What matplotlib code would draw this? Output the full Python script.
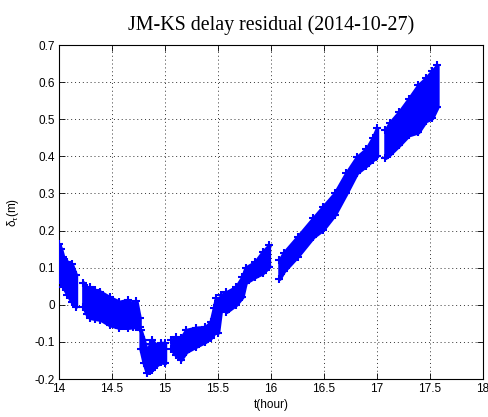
import matplotlib
matplotlib.use("Agg")
import matplotlib.pyplot as plt

# Envelope of the scattered residuals (t in hours, values in m)
seg1_t     = [14.00, 14.02, 14.04, 14.08, 14.12, 14.16]
seg1_low   = [0.067, 0.058, 0.048, 0.027, 0.008, -0.005]
seg1_high  = [0.163, 0.150, 0.128, 0.115, 0.110, 0.080]

seg2_t     = [14.23, 14.26, 14.29, 14.34, 14.39, 14.48, 14.57, 14.65, 14.70, 14.73, 14.76]
seg2_low   = [-0.005, -0.025, -0.035, -0.038, -0.040, -0.055, -0.062, -0.062, -0.060, -0.060, -0.060]
seg2_high  = [0.060, 0.045, 0.048, 0.040, 0.035, 0.020, 0.008, 0.013, 0.000, 0.010, -0.035]

seg3_t     = [14.77, 14.80, 14.83, 14.86, 14.88, 14.92, 14.96, 15.00]
seg3_low   = [-0.120, -0.157, -0.184, -0.178, -0.175, -0.163, -0.155, -0.157]
seg3_high  = [-0.068, -0.095, -0.127, -0.105, -0.095, -0.113, -0.103, -0.103]

seg4_t     = [15.06, 15.10, 15.15, 15.20, 15.29, 15.38, 15.43, 15.46, 15.48, 15.50,
              15.53, 15.58, 15.67, 15.73, 15.76, 15.85, 15.92, 15.98]
seg4_low   = [-0.120, -0.135, -0.148, -0.127, -0.113, -0.100, -0.090, -0.078, -0.070, -0.075,
              -0.008, -0.019, 0.000, 0.021, 0.059, 0.075, 0.085, 0.102]
seg4_high  = [-0.095, -0.087, -0.090, -0.068, -0.062, -0.060, -0.047, -0.010, 0.018, 0.010,
              0.026, 0.034, 0.048, 0.075, 0.100, 0.115, 0.142, 0.160]

seg5_t     = [16.08, 16.12, 16.25, 16.40, 16.49, 16.60, 16.71, 16.81, 16.90, 16.96, 17.00]
seg5_low   = [0.070, 0.090, 0.130, 0.183, 0.202, 0.242, 0.300, 0.355, 0.375, 0.390, 0.400]
seg5_high  = [0.120, 0.140, 0.183, 0.234, 0.264, 0.300, 0.355, 0.398, 0.420, 0.450, 0.476]

seg6_t     = [17.08, 17.12, 17.21, 17.30, 17.39, 17.46, 17.52, 17.57]
seg6_low   = [0.396, 0.405, 0.430, 0.457, 0.465, 0.495, 0.503, 0.533]
seg6_high  = [0.470, 0.490, 0.520, 0.555, 0.592, 0.610, 0.630, 0.646]

segments = [(seg1_t, seg1_low, seg1_high), (seg2_t, seg2_low, seg2_high),
            (seg3_t, seg3_low, seg3_high), (seg4_t, seg4_low, seg4_high),
            (seg5_t, seg5_low, seg5_high), (seg6_t, seg6_low, seg6_high)]

x_ticks = [14, 14.5, 15, 15.5, 16, 16.5, 17, 17.5, 18]
x_labels = ["14", "14.5", "15", "15.5", "16", "16.5", "17", "17.5", "18"]
y_ticks = [-0.2, -0.1, 0, 0.1, 0.2, 0.3, 0.4, 0.5, 0.6, 0.7]
y_labels = ["-0.2", "-0.1", "0", "0.1", "0.2", "0.3", "0.4", "0.5", "0.6", "0.7"]

fig = plt.figure(figsize=(4.88, 4.17), dpi=100)
ax = fig.add_axes([59/488, 38/417, 424/488, 334/417])

blue = "#0000FF"
for t, lo, hi in segments:
    ax.fill_between(t, lo, hi, color=blue, linewidth=2.5, edgecolor=blue, zorder=3)
    ax.plot(t, lo, "+", color=blue, ms=6, mew=1.5, zorder=3)
    ax.plot(t, hi, "+", color=blue, ms=6, mew=1.5, zorder=3)

ax.set_xlim(14, 18)
ax.set_ylim(-0.2, 0.7)
ax.set_xticks(x_ticks)
ax.set_xticklabels(x_labels)
ax.set_yticks(y_ticks)
ax.set_yticklabels(y_labels)
ax.tick_params(direction="in", top=True, right=True, length=4, width=0.6,
               labelsize=8.5, colors="black", pad=3)
for lab in ax.get_xticklabels() + ax.get_yticklabels():
    lab.set_family("Liberation Sans")
for s in ax.spines.values():
    s.set_linewidth(0.8)
    s.set_color("black")
ax.grid(True, linestyle=(0, (1, 3)), color="black", linewidth=0.7, alpha=0.8)
ax.set_axisbelow(True)

ax.set_xlabel("t(hour)", fontsize=8.5, family="Liberation Sans", labelpad=3)
ax.set_ylabel(r"$\mathregular{\delta_\tau}$(m)", fontsize=8.5, family="Liberation Sans", labelpad=10)
ax.set_title("JM-KS delay residual (2014-10-27)", fontsize=14.4,
             family="Liberation Serif", pad=11)

fig.savefig("out.png", dpi=100)
